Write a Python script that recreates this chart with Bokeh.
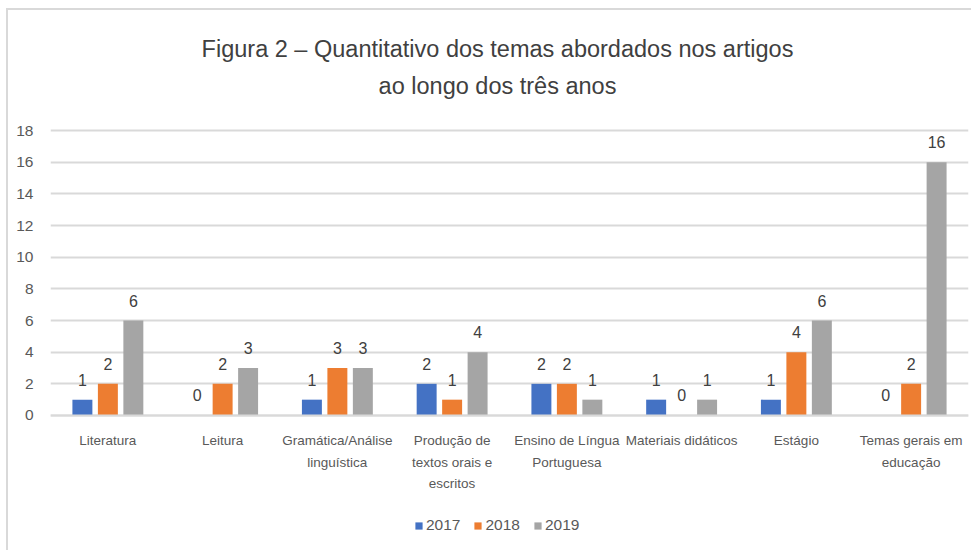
from bokeh.plotting import figure
from bokeh.models import (ColumnDataSource, FactorRange, LabelSet, Label, Legend, LegendItem,
                          FixedTicker)
from bokeh.core.properties import value
from bokeh.transform import dodge
from bokeh.embed import file_html
from bokeh.resources import INLINE

categories = ["Literatura", "Leitura", "Gramática/Análise\nlinguística",
              "Produção de\ntextos orais e\nescritos", "Ensino de Língua\nPortuguesa",
              "Materiais didáticos", "Estágio", "Temas gerais em\neducação"]
series_names = ["2017", "2018", "2019"]
v2017 = [1, 0, 1, 2, 2, 1, 1, 0]
v2018 = [2, 2, 3, 1, 2, 0, 4, 2]
v2019 = [6, 3, 3, 4, 1, 1, 6, 16]
y_ticks = [0, 2, 4, 6, 8, 10, 12, 14, 16, 18]
colors = ["#4472C4", "#ED7D31", "#A5A5A5"]
title_lines = ["Figura 2 – Quantitativo dos temas abordados nos artigos", "ao longo dos três anos"]

FONT = "Liberation Sans"
TXT = "#595959"

src = ColumnDataSource(dict(
    cat=categories,
    v2017=v2017, v2018=v2018, v2019=v2019,
    t2017=[str(v) for v in v2017], t2018=[str(v) for v in v2018], t2019=[str(v) for v in v2019],
))

# the frame spans the whole chart area; ticks/grid only cover 0..18
p = figure(x_range=FactorRange(factors=categories, range_padding=0), y_range=(-8.653, 25.58),
           width=965, height=542, output_backend="svg", toolbar_location=None,
           min_border_left=42, min_border_right=5, min_border_top=0, min_border_bottom=0,
           margin=(8, 0, 0, 6),
           styles={"border-left": "2px solid #d9d9d9", "border-top": "2px solid #d9d9d9"})
p.title = None
p.outline_line_color = None

offsets = [-0.222, 0.0, 0.222]
keys = ["2017", "2018", "2019"]
items = []
for k, off, col, name in zip(keys, offsets, colors, series_names):
    r = p.vbar(x=dodge("cat", off, range=p.x_range), top="v" + k, width=0.174,
               source=src, fill_color=col, line_color=None)
    items.append(LegendItem(label=name, renderers=[r]))
    lbl = LabelSet(x=dodge("cat", off, range=p.x_range), y="v" + k, text="t" + k, source=src,
                   text_align="center", text_baseline="alphabetic", y_offset=14,
                   text_font=value(FONT), text_font_size=value("16px"),
                   text_color=value("#404040"))
    p.add_layout(lbl)

p.yaxis.ticker = FixedTicker(ticks=y_ticks)
p.yaxis.axis_line_color = None
p.yaxis.major_tick_line_color = None
p.yaxis.minor_tick_line_color = None
p.yaxis.major_label_text_font = FONT
p.yaxis.major_label_text_font_size = "15.5px"
p.yaxis.major_label_text_color = TXT
p.yaxis.major_label_standoff = 11

p.xaxis.fixed_location = 0
p.xaxis.axis_line_color = "#d9d9d9"
p.xaxis.axis_line_width = 2
p.xaxis.major_tick_line_color = None
p.xaxis.minor_tick_line_color = None
p.xaxis.major_label_text_font = FONT
p.xaxis.major_label_text_font_size = "13.5px"
p.xaxis.major_label_text_color = TXT
p.xaxis.major_label_text_line_height = 1.42
p.xaxis.major_label_standoff = 12
p.xaxis.major_label_orientation = "horizontal"
p.xgrid.grid_line_color = None
p.ygrid.grid_line_color = "#d9d9d9"
p.ygrid.grid_line_width = 2

legend = Legend(items=items, orientation="horizontal", location=(364, 18),
                glyph_width=9, glyph_height=9, label_text_font=FONT,
                label_text_font_size="15.5px", label_text_color=TXT,
                border_line_color=None, background_fill_alpha=0,
                spacing=13, label_standoff=3, margin=0, padding=0)
p.add_layout(legend, "center")

for txt, ys in zip(title_lines, [504, 467]):
    p.add_layout(Label(x=447, y=ys, x_units="screen", y_units="screen", text=txt,
                       text_align="center", text_baseline="middle", text_font=FONT,
                       text_font_size="23.5px", text_color="#404040"))

open("out.html", "w").write(file_html(p, INLINE))
